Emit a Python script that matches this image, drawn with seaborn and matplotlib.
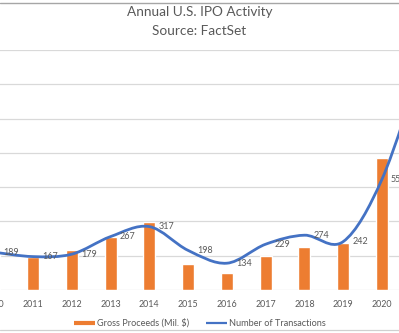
import numpy as np
import pandas as pd
import matplotlib
matplotlib.use("Agg")
import matplotlib.pyplot as plt
import seaborn as sns
from matplotlib.path import Path
from matplotlib.patches import PathPatch
from matplotlib.lines import Line2D

# ---- data ----
years = ["2010", "2011", "2012", "2013", "2014", "2015", "2016", "2017", "2018", "2019", "2020", "2021"]
gross_proceeds = [22000, 19200, 23300, 30900, 39700, 15200, 9900, 19800, 25100, 27400, 77000, 130000]
transactions = [189, 167, 179, 267, 317, 198, 134, 229, 274, 242, 554, 1115]
title_lines = ["Annual U.S. IPO Activity", "Source: FactSet"]
legend_labels = ["Gross Proceeds (Mil. $)", "Number of Transactions"]

ORANGE = "#ED7D31"
BLUE = "#4472C4"
TXT = "#595959"
GRID = "#D9D9D9"

sns.set_style("white")
plt.rcParams["font.family"] = ["Lato", "DejaVu Sans"]

W, H = 399, 333
fig = plt.figure(figsize=(W / 100, H / 100), dpi=100)

# plot area (extends beyond the cropped canvas on both sides)
x0_px = -5.8          # pixel of first category centre
step_px = 38.78       # pixel spacing of categories
n = len(years)
left_px = x0_px - 0.5 * step_px
right_px = x0_px + (n - 0.5) * step_px
top_px, bot_px = 50, 290
ax = fig.add_axes([left_px / W, 1 - bot_px / H, (right_px - left_px) / W, (bot_px - top_px) / H])

df = pd.DataFrame({"year": years, "proceeds": gross_proceeds, "deals": transactions})
sns.barplot(data=df, x="year", y="proceeds", color=ORANGE, saturation=1,
            width=0.31, ax=ax, zorder=2)
ax.set_xlim(-0.5, n - 0.5)
ax.set_ylim(0, 140000)
ax.set_yticks(np.arange(0, 140001, 20000))
ax.yaxis.grid(True, color=GRID, lw=0.9, zorder=0)
ax.set_axisbelow(True)
for s in ax.spines.values():
    s.set_visible(False)
ax.set_xlabel("")
ax.set_ylabel("")
ax.tick_params(axis="y", length=0, labelleft=False)
ax.tick_params(axis="x", length=0, pad=7.5, labelsize=6.4, labelcolor=TXT)

# secondary axis: smoothed line
ax2 = ax.twinx()
ax2.set_ylim(0, 1200)
ax2.set_xlim(-0.5, n - 0.5)
for s in ax2.spines.values():
    s.set_visible(False)
ax2.tick_params(axis="y", length=0, labelright=False)
ax2.grid(False)

P = np.column_stack([np.arange(n, dtype=float), np.array(transactions, dtype=float)])
verts = [tuple(P[0])]
codes = [Path.MOVETO]
for i in range(n - 1):
    pm = P[i - 1] if i > 0 else P[i]
    pp = P[i + 2] if i + 2 < n else P[i + 1]
    c1 = P[i] + (P[i + 1] - pm) / 6.0
    c2 = P[i + 1] - (pp - P[i]) / 6.0
    verts += [tuple(c1), tuple(c2), tuple(P[i + 1])]
    codes += [Path.CURVE4] * 3
ax2.add_patch(PathPatch(Path(verts, codes), fill=False, edgecolor=BLUE, lw=2.0,
                        capstyle="round", joinstyle="round", zorder=3))

for i, v in enumerate(transactions):
    ax2.annotate(str(v), (i, v), xytext=(6.5, 0), textcoords="offset points",
                 ha="left", va="center", fontsize=6.5, color=TXT, zorder=4)

# titles
fig.text(199.5 / W, 1 - 12 / H, title_lines[0], ha="center", va="center", fontsize=9.8, color=TXT)
fig.text(199.5 / W, 1 - 31 / H, title_lines[1], ha="center", va="center", fontsize=9.8, color=TXT)

# legend
handles = [Line2D([], [], color=ORANGE, lw=3.0, solid_capstyle="butt"),
           Line2D([], [], color=BLUE, lw=1.6, solid_capstyle="butt")]
fig.legend(handles, legend_labels, loc="center", bbox_to_anchor=(200 / W, 1 - 323 / H),
           ncol=2, frameon=False, fontsize=6.6, labelcolor=TXT, handlelength=2.3,
           handletextpad=0.25, columnspacing=1.8, borderpad=0, borderaxespad=0)

# chart border lines visible in the crop
fig.add_artist(Line2D([0, 1], [1 - 2.5 / H, 1 - 2.5 / H], transform=fig.transFigure, color="#A6A6A6", lw=1.0))
fig.add_artist(Line2D([0, 1], [1 - 329.5 / H, 1 - 329.5 / H], transform=fig.transFigure, color="#D0D0D0", lw=0.9))

fig.savefig("out.png", dpi=100)
